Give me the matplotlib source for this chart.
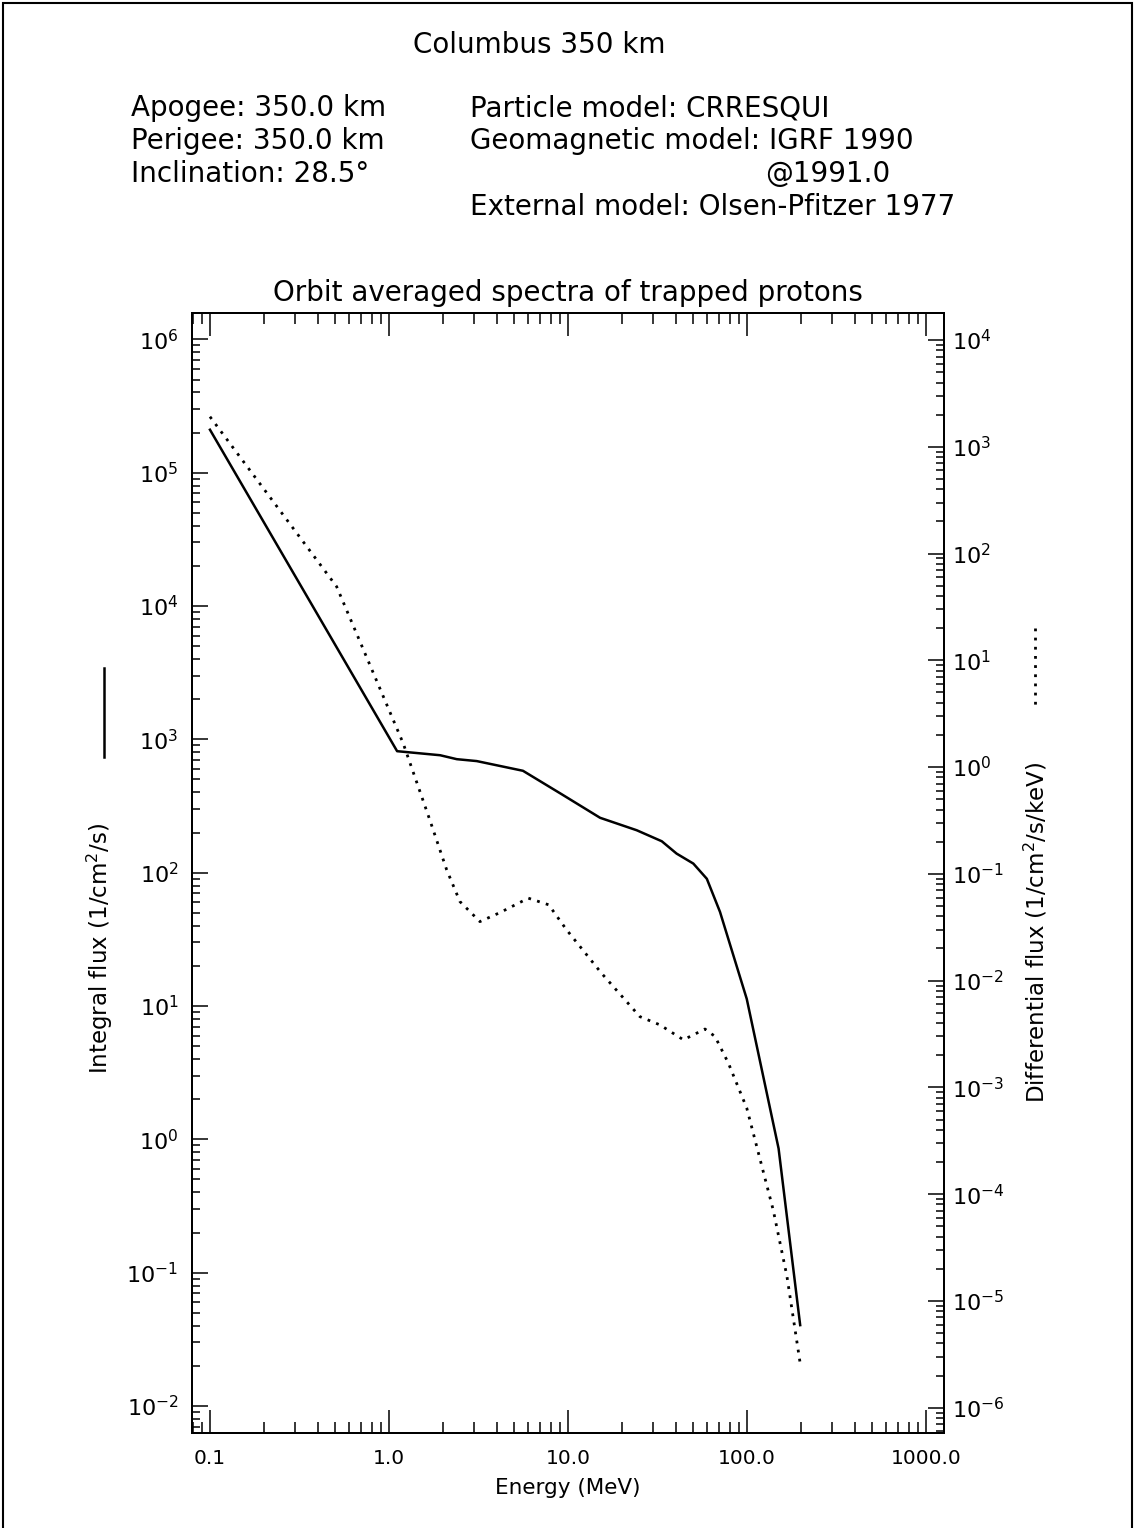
import numpy as np
import matplotlib
matplotlib.use('Agg')
from matplotlib import pyplot as plt
from matplotlib import ticker
from matplotlib.lines import Line2D
from matplotlib.patches import Rectangle

# 积分通量 (1/cm2/s)
energy_int = [0.1, 1.11, 1.93, 2.39, 3.09, 5.6, 9.2, 15.1, 24.2, 33.4, 40.4,
              50.1, 59.6, 70.6, 99.6, 150.0, 198.0]
flux_int = [2.1e5, 815, 760, 710, 687, 581, 388, 258, 208, 172, 139,
            117, 90, 50.8, 11.3, 0.853, 0.0404]

# 微分通量 (1/cm2/s/keV)
energy_diff = [0.1, 0.51, 1.2, 1.69, 2.1, 2.49, 3.22, 4.17, 6.0, 7.8, 9.8,
               15.4, 25.2, 32.6, 44.1, 58.2, 66.2, 78.6, 99.6, 140.0, 167.0, 198.0]
flux_diff = [1914, 49, 1.67, 0.32, 0.109, 0.055, 0.0357, 0.0434, 0.0592, 0.0513, 0.030,
             0.0117, 0.0046, 0.00385, 0.00279, 0.00352, 0.0030, 0.00169, 6.4e-4, 7.1e-5,
             1.7e-5, 2.6e-6]

x_ticks = [0.1, 1.0, 10.0, 100.0, 1000.0]
x_labels = ['0.1', '1.0', '10.0', '100.0', '1000.0']
left_ticks = [10.0 ** k for k in range(-2, 7)]
right_ticks = [10.0 ** k for k in range(-6, 5)]

header_left = ['Apogee: 350.0 km', 'Perigee: 350.0 km', 'Inclination: 28.5°']
header_right = ['Particle model: CRRESQUI', 'Geomagnetic model: IGRF 1990',
                '@1991.0', 'External model: Olsen-Pfitzer 1977']

W, H = 1135, 1528
plt.rcParams['font.family'] = ['DejaVu Sans']
plt.rcParams['mathtext.default'] = 'regular'
fig = plt.figure(figsize=(W / 100, H / 100), dpi=100)


def fx(px):
    return px / W


def fy(py):
    return 1 - py / H


dotted = (0, (1, 2.3))

ax = fig.add_axes([fx(192.3), fy(1433.3), fx(944) - fx(192.3), fy(312.7) - fy(1433.3)])
ax2 = ax.twinx()

ax.plot(energy_int, flux_int, color='black', lw=1.8, solid_joinstyle='round')
ax2.plot(energy_diff, flux_diff, color='black', lw=2.0, linestyle=dotted,
         dash_capstyle='butt')

ax.set_xscale('log')
ax.set_yscale('log')
ax2.set_yscale('log')
ax.set_xlim(10 ** -1.0987, 10 ** 3.1)
ax.set_ylim(10 ** -2.205, 10 ** 6.2)
ax2.set_ylim(10 ** -6.24, 10 ** 4.256)

ax.xaxis.set_major_locator(ticker.FixedLocator(x_ticks))
ax.xaxis.set_major_formatter(ticker.FixedFormatter(x_labels))
ax.xaxis.set_minor_locator(ticker.LogLocator(base=10, subs=np.arange(2, 10), numticks=20))
ax.xaxis.set_minor_formatter(ticker.NullFormatter())

for a, ticks in ((ax, left_ticks), (ax2, right_ticks)):
    a.yaxis.set_major_locator(ticker.FixedLocator(ticks))
    a.yaxis.set_major_formatter(ticker.FuncFormatter(
        lambda v, pos: r'$10^{%d}$' % int(round(np.log10(v)))))
    a.yaxis.set_minor_locator(ticker.LogLocator(base=10, subs=np.arange(2, 10), numticks=30))
    a.yaxis.set_minor_formatter(ticker.NullFormatter())

ax.tick_params(axis='x', which='major', direction='in', length=16.5, width=1.1,
               top=True, labelsize=14.5, pad=11)
ax.tick_params(axis='x', which='minor', direction='in', length=8, width=1.1, top=True)
ax.tick_params(axis='y', which='major', direction='in', length=11.5, width=1.1,
               right=False, labelsize=16, pad=10)
ax.tick_params(axis='y', which='minor', direction='in', length=5.8, width=1.1, right=False)
ax2.tick_params(axis='y', which='major', direction='in', length=11.5, width=1.1,
                labelsize=16, pad=6)
ax2.tick_params(axis='y', which='minor', direction='in', length=5.8, width=1.1)

for a in (ax, ax2):
    for s in a.spines.values():
        s.set_linewidth(1.4)

# 标题与轨道参数
fig.text(fx(539), fy(45), 'Columbus 350 km', fontsize=20, ha='center', va='center')
for i, s in enumerate(header_left):
    fig.text(fx(131), fy(108 + 33 * i), s, fontsize=20, ha='left', va='center')
for i, s in enumerate(header_right):
    if s.startswith('@'):
        fig.text(fx(890), fy(108 + 33 * i), s, fontsize=20, ha='right', va='center')
    else:
        fig.text(fx(470), fy(108 + 33 * i), s, fontsize=20, ha='left', va='center')

fig.text(fx(568), fy(293), 'Orbit averaged spectra of trapped protons', fontsize=20,
         ha='center', va='center')
fig.text(fx(568), fy(1488), 'Energy (MeV)', fontsize=15.5, ha='center', va='center')
fig.text(fx(100), fy(948), r'Integral flux (1/cm$^2$/s)', fontsize=16.5, rotation=90,
         ha='center', va='center')
fig.text(fx(1036), fy(932), r'Differential flux (1/cm$^2$/s/keV)', fontsize=16.5,
         rotation=90, ha='center', va='center')

# 线型图例
fig.add_artist(Line2D([fx(104.3), fx(104.3)], [fy(668), fy(757)], color='black', lw=1.8,
                      transform=fig.transFigure))
fig.add_artist(Line2D([fx(1035), fx(1035)], [fy(628), fy(710)], color='black', lw=2.0,
                      linestyle=dotted, transform=fig.transFigure))

# 外框
fig.add_artist(Rectangle((fx(3), -0.01), fx(1132) - fx(3), fy(3) + 0.01, fill=False,
                         lw=1.5, edgecolor='black', transform=fig.transFigure))

fig.savefig('out.png', dpi=100)
plt.close(fig)
